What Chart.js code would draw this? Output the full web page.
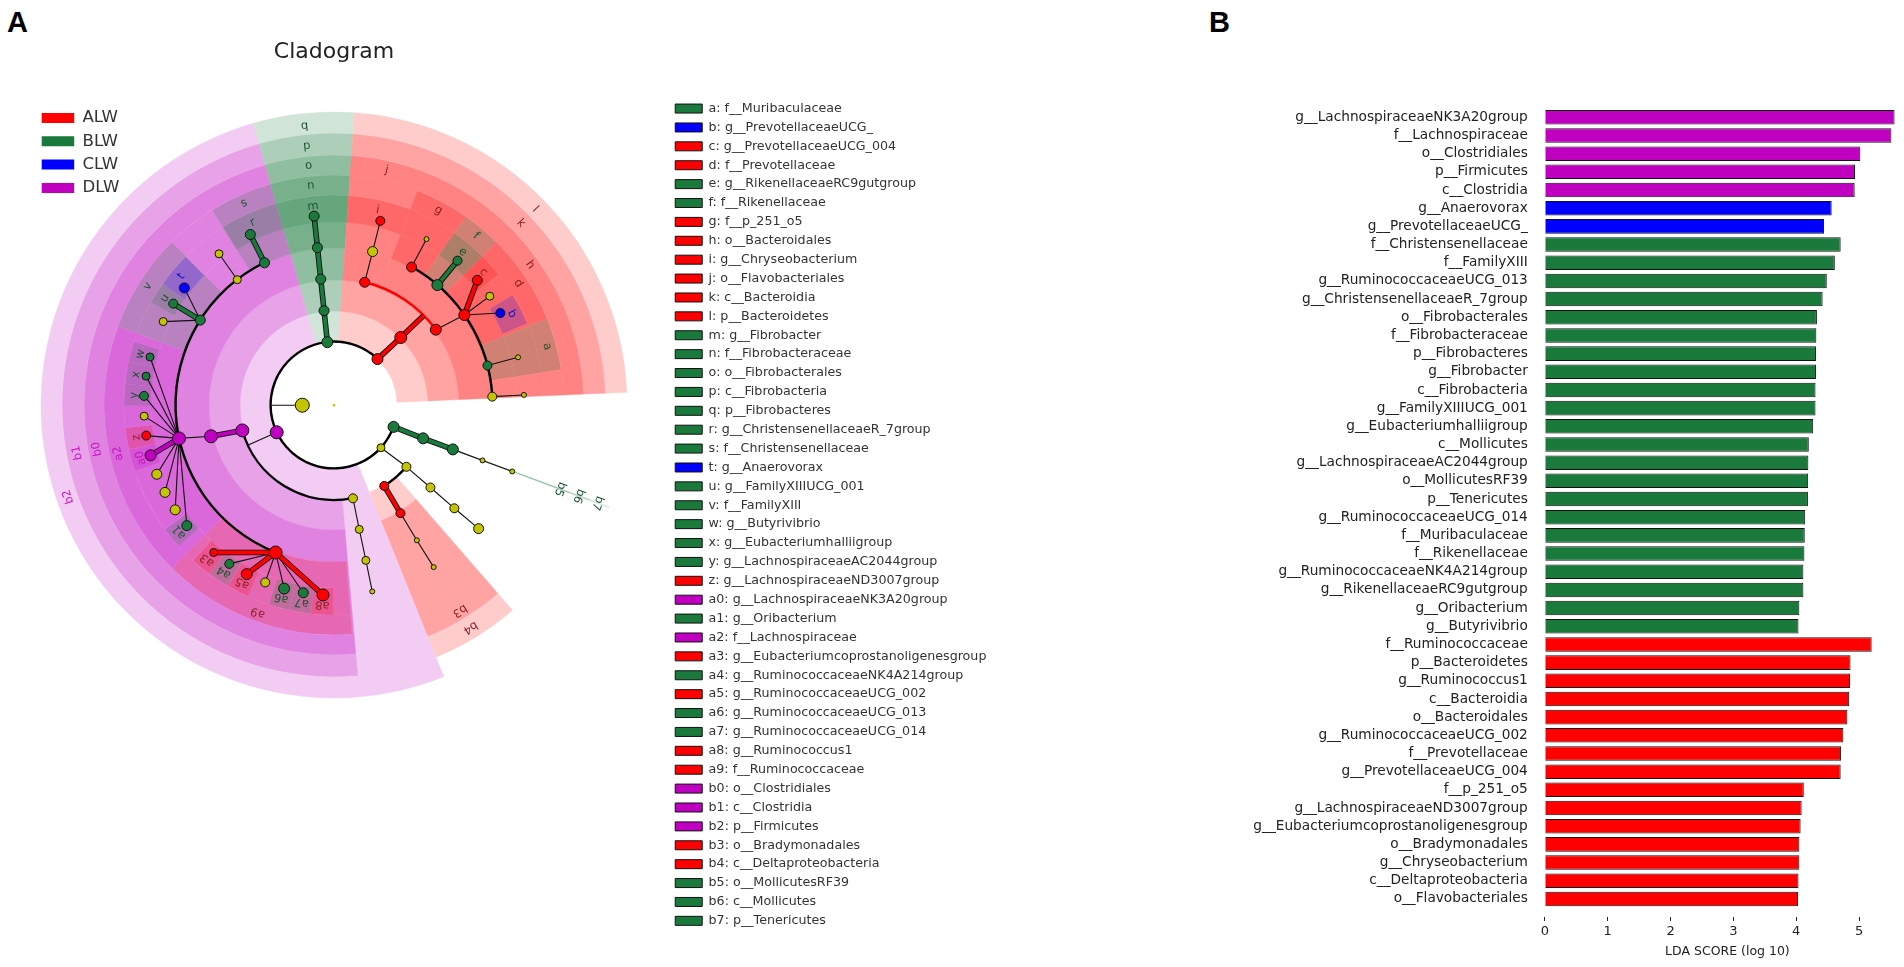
<!DOCTYPE html>
<html>
<head>
<meta charset="utf-8">
<title>Cladogram and LDA scores</title>
<script src="https://cdn.jsdelivr.net/npm/chart.js"></script>
<style>
  html, body { margin: 0; background: #fff; width: 1904px; height: 967px; overflow: hidden; }
  canvas { position: absolute; filter: blur(0.5px); }
  .panel { position: absolute; top: 6px; font: bold 29px "Liberation Sans", sans-serif; color: #000; }
</style>
</head>
<body>
<div class="panel" style="left:7px">A</div>
<div class="panel" style="left:1209px">B</div>
<canvas id="wedges" width="600" height="600" style="left:34px;top:105px"></canvas>
<canvas id="arcs" width="600" height="600" style="left:34px;top:105px"></canvas>
<canvas id="tree" width="668" height="760" style="left:0;top:0"></canvas>
<canvas id="groupKey" width="260" height="120" style="left:35px;top:103px"></canvas>
<canvas id="taxaKey" width="660" height="860" style="left:669px;top:96px"></canvas>
<canvas id="lda" width="710" height="876" style="left:1200px;top:91px"></canvas>
<script>
const groups = ["ALW", "BLW", "CLW", "DLW"];
const groupColours = { ALW: "#ff0000", BLW: "#1a7a3c", CLW: "#0000ff", DLW: "#c000c0" };
const groupRgb = { ALW: [255, 0, 0], BLW: [26, 122, 60], CLW: [0, 0, 255], DLW: [192, 0, 192] };
const labelColours = { ALW: "#8b1f1f", BLW: "#1c5230", CLW: "#1212c4", DLW: "#c414c4" };
const plainNode = "#c4c400";

// side key, a..b7
const taxaKeys = ["a","b","c","d","e","f","g","h","i","j","k","l","m","n","o","p","q","r","s","t","u","v","w","x","y","z","a0","a1","a2","a3","a4","a5","a6","a7","a8","a9","b0","b1","b2","b3","b4","b5","b6","b7"];
const taxaNames = ["f__Muribaculaceae","g__PrevotellaceaeUCG_","g__PrevotellaceaeUCG_004","f__Prevotellaceae","g__RikenellaceaeRC9gutgroup","f__Rikenellaceae","f__p_251_o5","o__Bacteroidales","g__Chryseobacterium","o__Flavobacteriales","c__Bacteroidia","p__Bacteroidetes","g__Fibrobacter","f__Fibrobacteraceae","o__Fibrobacterales","c__Fibrobacteria","p__Fibrobacteres","g__ChristensenellaceaeR_7group","f__Christensenellaceae","g__Anaerovorax","g__FamilyXIIIUCG_001","f__FamilyXIII","g__Butyrivibrio","g__Eubacteriumhalliigroup","g__LachnospiraceaeAC2044group","g__LachnospiraceaeND3007group","g__LachnospiraceaeNK3A20group","g__Oribacterium","f__Lachnospiraceae","g__Eubacteriumcoprostanoligenesgroup","g__RuminococcaceaeNK4A214group","g__RuminococcaceaeUCG_002","g__RuminococcaceaeUCG_013","g__RuminococcaceaeUCG_014","g__Ruminococcus1","f__Ruminococcaceae","o__Clostridiales","c__Clostridia","p__Firmicutes","o__Bradymonadales","c__Deltaproteobacteria","o__MollicutesRF39","c__Mollicutes","p__Tenericutes"];
const taxaGroups = ["BLW","CLW","ALW","ALW","BLW","BLW","ALW","ALW","ALW","ALW","ALW","ALW","BLW","BLW","BLW","BLW","BLW","BLW","BLW","CLW","BLW","BLW","BLW","BLW","BLW","ALW","DLW","BLW","DLW","ALW","BLW","ALW","BLW","BLW","ALW","ALW","DLW","DLW","DLW","ALW","ALW","BLW","BLW","BLW"];

// LDA bars, top to bottom
const barNames = ["g__LachnospiraceaeNK3A20group","f__Lachnospiraceae","o__Clostridiales","p__Firmicutes","c__Clostridia","g__Anaerovorax","g__PrevotellaceaeUCG_","f__Christensenellaceae","f__FamilyXIII","g__RuminococcaceaeUCG_013","g__ChristensenellaceaeR_7group","o__Fibrobacterales","f__Fibrobacteraceae","p__Fibrobacteres","g__Fibrobacter","c__Fibrobacteria","g__FamilyXIIIUCG_001","g__Eubacteriumhalliigroup","c__Mollicutes","g__LachnospiraceaeAC2044group","o__MollicutesRF39","p__Tenericutes","g__RuminococcaceaeUCG_014","f__Muribaculaceae","f__Rikenellaceae","g__RuminococcaceaeNK4A214group","g__RikenellaceaeRC9gutgroup","g__Oribacterium","g__Butyrivibrio","f__Ruminococcaceae","p__Bacteroidetes","g__Ruminococcus1","c__Bacteroidia","o__Bacteroidales","g__RuminococcaceaeUCG_002","f__Prevotellaceae","g__PrevotellaceaeUCG_004","f__p_251_o5","g__LachnospiraceaeND3007group","g__Eubacteriumcoprostanoligenesgroup","o__Bradymonadales","g__Chryseobacterium","c__Deltaproteobacteria","o__Flavobacteriales"];
const barScores = [5.564,5.514,5.02,4.936,4.93,4.564,4.443,4.707,4.614,4.486,4.42,4.329,4.32,4.314,4.314,4.307,4.307,4.27,4.2,4.193,4.19,4.186,4.143,4.136,4.13,4.114,4.114,4.05,4.036,5.2,4.864,4.857,4.843,4.814,4.75,4.714,4.707,4.12,4.086,4.07,4.05,4.05,4.036,4.03];
const barGroups = ["DLW","DLW","DLW","DLW","DLW","CLW","CLW","BLW","BLW","BLW","BLW","BLW","BLW","BLW","BLW","BLW","BLW","BLW","BLW","BLW","BLW","BLW","BLW","BLW","BLW","BLW","BLW","BLW","BLW","ALW","ALW","ALW","ALW","ALW","ALW","ALW","ALW","ALW","ALW","ALW","ALW","ALW","ALW","ALW"];
const scoreTicks = [0, 1, 2, 3, 4, 5];

// highlighted clades: angle span in degrees, taxonomic level
const cladeNames = ["l","k","j","h","i","g","f","e","d","c","b","a","q","p","o","n","m","b2","b1","b0","s","r","v","t","u","w","x","y","a2","z","a0","a1","a9","a3","a4","a5","a6","a7","a8","b4","b3","b7","b6","b5"];
const cladeFrom = [2.5,2.5,68.7,2.5,68.7,55,45,45,22,38.4,22.8,8.8,86,86,86,86,86,106,106,106,106,106,134.8,135,144.7,162.3,168.2,174.2,160,186.2,192.3,216.3,225.2,227.8,233.6,239.7,251.8,257.7,263.7,292,292,339.5,339.5,339.5];
const cladeTo = [86,86,86,68.7,86,68.7,55,55,45,45,31.6,22,106,106,106,106,106,292,275,275,122,122,160,144.7,150.7,168.2,174.2,180.2,225.2,192.2,198.3,222.3,274.5,233.6,239.6,245.7,257.7,263.7,269.7,311,311,339.7,339.7,339.7];
const cladeLevels = [2,3,4,4,6,5,5,6,5,6,6,5,2,3,4,5,6,2,3,4,5,6,5,6,6,6,6,6,5,6,6,6,5,6,6,6,6,6,6,3,4,2,3,4];
const cladeGroups = ["ALW","ALW","ALW","ALW","ALW","ALW","BLW","BLW","ALW","ALW","CLW","BLW","BLW","BLW","BLW","BLW","BLW","DLW","DLW","DLW","BLW","BLW","BLW","CLW","BLW","BLW","BLW","BLW","DLW","ALW","DLW","BLW","ALW","ALW","BLW","ALW","BLW","BLW","ALW","ALW","ALW","BLW","BLW","BLW"];

// tree nodes; parent "" means the node hangs off a sibling arc
const nodeNames = ["centre","root","rootArc","q","p","o","n","m","l","k","kArc","j","jf","i","h","d","g","gg","f","e","c","dy","b","a","ag","fy","fyg","b2","b2Arc","b1","b0","a2","s","r","sy","syg","v","t","u","vy","w","x","y","a2y1","z","a0","a2y2","a2y3","a2y4","a1","a9","a3","a4","a5","a9y","a6","a7","a8","c1","c2","c3","c4","py","py3","py4","py5","py6","b4","b3","b3f","b3g","b7","b6","b5","b5f","b5g"];
const nodeAngles = [0,180,180,96,96,96,96,96,46.7,45.4,45,76,75.9,75.9,36.6,34.7,60.7,60.9,49.3,49.5,41.1,35,29,14.5,14.6,3.1,3.1,205.3,205,195.4,194.2,192.1,116,116.1,127.6,127.2,147.5,141.9,147.7,153.9,165.3,171.2,177.2,183.3,189.2,195.3,201.3,207.3,213.4,219.3,248.4,230.8,236.6,242.7,248.8,254.8,260.7,266.7,281.5,281.5,281.6,281.6,317.8,319.6,319.5,319.4,319.5,301.9,301.6,301.5,301.6,340,339.6,339.6,339.6,339.6];
const nodeLevels = [0,1,2,2,3,4,5,6,2,3,4,4,5,6,4,5,5,6,5,6,6,6,6,5,6,5,6,2,3,3,4,5,5,6,5,6,5,6,6,6,6,6,6,6,6,6,6,6,6,6,5,6,6,6,6,6,6,6,3,4,5,6,2,3,4,5,6,3,4,5,6,2,3,4,5,6];
const nodeGroups = ["","","","BLW","BLW","BLW","BLW","BLW","ALW","ALW","ALW","ALW","","ALW","ALW","ALW","ALW","","BLW","BLW","ALW","","CLW","BLW","","","","DLW","","DLW","DLW","DLW","BLW","BLW","","","BLW","CLW","BLW","","BLW","BLW","BLW","","ALW","DLW","","","","BLW","ALW","ALW","BLW","ALW","","BLW","BLW","ALW","","","","","","","","","","ALW","ALW","","","BLW","BLW","BLW","",""];
const nodeAbundance = [2,14,0,11,10,10,10,10,11,12,0,10,10,9,11,11,10,5,11,9,10,8,9,9,5,9,5,13,0,13,13,13,10,10,8,8,10,10,9,8,8,8,9,8,9,11,10,10,10,10,13,8,9,11,9,11,10,12,9,8,8,5,8,9,9,9,10,9,9,5,5,11,11,11,5,5];
const nodeParents = ["","","root","","q","p","o","n","","l","k","","j","jf","","h","","g","","f","d","d","d","","a","","fy","","b2","","b1","b0","","s","","sy","","v","v","v","a2","a2","a2","a2","a2","a2","a2","a2","a2","a2","","a9","a9","a9","a9","a9","a9","a9","","c1","c2","c3","","py","py3","py4","py5","","b4","b3","b3f","","b7","b6","b5","b5f"];
const heavyEdges = ["p","o","n","m","k","kArc","e","c","b0","r","u","a0","a3","a5","a8","b3","b6","b5"];

// sibling arcs: level, angle span, colour group ("" is black)
const arcLevels = [2,3,3,4,5,5];
const arcFrom = [46.7,195.4,301.9,36.6,3.1,116];
const arcTo = [340,281.5,319.6,76,60.7,248.4];
const arcGroups = ["","","","ALW","",""];

const levelStep = 31.7;
const arcThickness = 2.4;
// clade rings, inner to outer; a clade of level n spans the rings listed in levelRings
const ringEdges = [63, 94, 125, 157, 183, 210, 230, 250, 272, 293];
const levelRings = { 2: [0, 8], 3: [1, 7], 4: [2, 6], 5: [3, 5], 6: [4, 4] };
const labelRadius = { 2: 281, 3: 261, 4: 241, 5: 221, 6: 200 };

Chart.defaults.font.family = '"DejaVu Sans", sans-serif';
Chart.defaults.animation = false;
Chart.defaults.responsive = false;
Chart.defaults.events = [];
Chart.defaults.layout.autoPadding = false;
Chart.defaults.plugins.tooltip.enabled = false;

// cut one ring into slices, clockwise from 3 o'clock, so a doughnut can draw it
function ringSlices(spans) {
  const cuts = [...new Set([0, 360, ...spans.flatMap((s) => [s.from, s.to])])].sort((a, b) => b - a);
  const data = [];
  const colours = [];
  for (let i = 0; i < cuts.length - 1; i++) {
    const mid = (cuts[i] + cuts[i + 1]) / 2;
    const over = spans.filter((s) => s.from < mid && s.to > mid);
    let colour = "rgba(255,255,255,0)";
    if (over.length) {
      let rgb = [255, 255, 255];
      over.forEach((s) => {
        rgb = rgb.map((c, k) => c + (s.rgb[k] - c) * s.alpha);
      });
      colour = `rgb(${rgb.map(Math.round).join(",")})`;
    }
    data.push(cuts[i] - cuts[i + 1]);
    colours.push(colour);
  }
  return { data, backgroundColor: colours, borderColor: colours };
}

const cladeRows = cladeNames.map((name, i) => ({
  name,
  from: cladeFrom[i],
  to: cladeTo[i],
  level: cladeLevels[i],
  group: cladeGroups[i],
  rgb: groupRgb[cladeGroups[i]],
  alpha: 0.2,
}));

// outermost ring comes first in a doughnut
const wedgeSets = [];
for (let r = ringEdges.length - 2; r >= 0; r--) {
  const here = cladeRows.filter((c) => levelRings[c.level][0] <= r && r <= levelRings[c.level][1]);
  wedgeSets.push({ ...ringSlices(here), weight: ringEdges[r + 1] - ringEdges[r], borderWidth: 0.5 });
}

const outerWedge = ringEdges[ringEdges.length - 1];
new Chart(document.getElementById("wedges"), {
  type: "doughnut",
  data: { datasets: wedgeSets },
  options: {
    rotation: 90,
    radius: outerWedge,
    cutout: `${(ringEdges[0] / outerWedge) * 100}%`,
    plugins: { legend: { display: false } },
  },
});

const arcSets = [];
const arcRows = arcLevels.map((level, i) => ({
  level,
  from: arcFrom[i],
  to: arcTo[i],
  rgb: groupRgb[arcGroups[i]] || [0, 0, 0],
  alpha: 1,
}));
for (let level = 5; level >= 2; level--) {
  arcSets.push({ ...ringSlices(arcRows.filter((a) => a.level === level)), weight: arcThickness, borderWidth: 0 });
  if (level > 2) {
    arcSets.push({ data: [360], backgroundColor: ["rgba(0,0,0,0)"], weight: levelStep - arcThickness, borderWidth: 0 });
  }
}

const outerArc = levelStep * 5 + arcThickness / 2;
const innerArc = levelStep * 2 - arcThickness / 2;
new Chart(document.getElementById("arcs"), {
  type: "doughnut",
  data: { datasets: arcSets },
  options: {
    rotation: 90,
    radius: outerArc,
    cutout: `${(innerArc / outerArc) * 100}%`,
    plugins: { legend: { display: false } },
  },
});

function polar(angle, radius) {
  const rad = (angle * Math.PI) / 180;
  return { x: radius * Math.cos(rad), y: radius * Math.sin(rad) };
}

const nodePoints = nodeNames.map((_, i) => polar(nodeAngles[i], nodeLevels[i] * levelStep));
const gap = { x: NaN, y: NaN };

function edgePoints(keep) {
  const out = [];
  nodeNames.forEach((name, i) => {
    if (!nodeParents[i] || !keep(name, i)) return;
    out.push(nodePoints[nodeNames.indexOf(nodeParents[i])], nodePoints[i], gap);
  });
  return out;
}

const lineSet = (data, color, width, order) => ({
  data,
  showLine: true,
  borderColor: color,
  borderWidth: width,
  pointRadius: 0,
  order,
  clip: false,
});

const treeSets = [
  lineSet(edgePoints((name) => !heavyEdges.includes(name)), "#111", 1.1, 5),
  lineSet(edgePoints((name) => heavyEdges.includes(name)), "#111", 5.6, 4),
  ...groups.map((g) =>
    lineSet(edgePoints((name, i) => heavyEdges.includes(name) && nodeGroups[i] === g), groupColours[g], 3.8, 3)
  ),
  {
    data: nodePoints,
    showLine: false,
    pointRadius: nodeAbundance.map((a) => a / 2),
    pointBackgroundColor: nodeGroups.map((g) => groupColours[g] || plainNode),
    pointBorderColor: nodeNames.map((name) => (name === "centre" ? plainNode : "#111")),
    pointBorderWidth: 1,
    order: 0,
    clip: false,
  },
];

// letters on the clades, top of the glyph pointing outward
const cladeLetters = {
  id: "cladeLetters",
  afterDatasetsDraw(chart) {
    const { ctx, scales } = chart;
    ctx.save();
    ctx.font = '11.5px "DejaVu Sans"';
    ctx.textAlign = "center";
    ctx.textBaseline = "middle";
    cladeRows.forEach((c) => {
      const angle = (c.from + c.to) / 2;
      const at = polar(angle, labelRadius[c.level]);
      ctx.save();
      ctx.translate(scales.x.getPixelForValue(at.x), scales.y.getPixelForValue(at.y));
      ctx.rotate(((90 - angle) * Math.PI) / 180);
      ctx.fillStyle = labelColours[c.group];
      ctx.fillText(c.name, 0, 0);
      ctx.restore();
    });
    ctx.restore();
  },
};

new Chart(document.getElementById("tree"), {
  type: "scatter",
  data: { datasets: treeSets },
  options: {
    layout: { padding: 0 },
    plugins: {
      legend: { display: false },
      title: {
        display: true,
        text: "Cladogram",
        color: "#222",
        font: { size: 22, weight: "normal" },
        padding: { top: 39, bottom: 0 },
      },
    },
    scales: {
      x: { display: false, min: -334, max: 334 },
      y: { display: false, min: -355, max: 340 },
    },
  },
  plugins: [cladeLetters],
});

function keyChart(id, names, colours, outline, size, padding, box) {
  new Chart(document.getElementById(id), {
    type: "bar",
    data: {
      labels: [],
      datasets: names.map((label, i) => ({
        label,
        data: [],
        backgroundColor: colours[i],
        borderColor: outline,
        borderWidth: outline ? 1 : 0,
      })),
    },
    options: {
      scales: { x: { display: false }, y: { display: false } },
      plugins: {
        legend: {
          position: "left",
          align: "start",
          labels: {
            boxWidth: box[0],
            boxHeight: box[1],
            padding,
            color: "#333",
            font: { size },
          },
        },
      },
    },
  });
}

keyChart("groupKey", groups, groups.map((g) => groupColours[g]), "", 16.6, 6.7, [32.5, 10]);
keyChart(
  "taxaKey",
  taxaNames.map((name, i) => `${taxaKeys[i]}: ${name}`),
  taxaGroups.map((g) => groupColours[g]),
  "#111",
  12.66,
  6.23,
  [27, 9]
);

new Chart(document.getElementById("lda"), {
  type: "bar",
  data: {
    labels: barNames,
    datasets: [
      {
        data: barScores,
        backgroundColor: barGroups.map((g) => groupColours[g]),
        borderColor: "#111",
        borderWidth: 1,
        categoryPercentage: 1,
        barPercentage: 0.8,
      },
    ],
  },
  options: {
    indexAxis: "y",
    layout: { padding: 0 },
    plugins: { legend: { display: false } },
    scales: {
      y: {
        afterFit: (scale) => { scale.width = 344.8; },
        grid: { display: false },
        border: { display: false },
        ticks: { autoSkip: false, padding: 9, color: "#222", font: { size: 13.7 } },
      },
      x: {
        min: 0,
        max: 5.81,
        afterFit: (scale) => { scale.height = 59; },
        afterBuildTicks: (scale) => { scale.ticks = scoreTicks.map((value) => ({ value })); },
        border: { display: false },
        grid: {
          drawOnChartArea: false,
          tickLength: 13,
          tickColor: "#222",
          tickBorderDash: [0, 9, 4, 100],
        },
        ticks: { padding: 3, color: "#222", font: { size: 13 }, maxRotation: 0 },
        title: {
          display: true,
          text: "LDA SCORE (log 10)",
          color: "#222",
          font: { size: 12.5 },
          padding: { top: 4, bottom: 8 },
        },
      },
    },
  },
});
</script>
</body>
</html>
